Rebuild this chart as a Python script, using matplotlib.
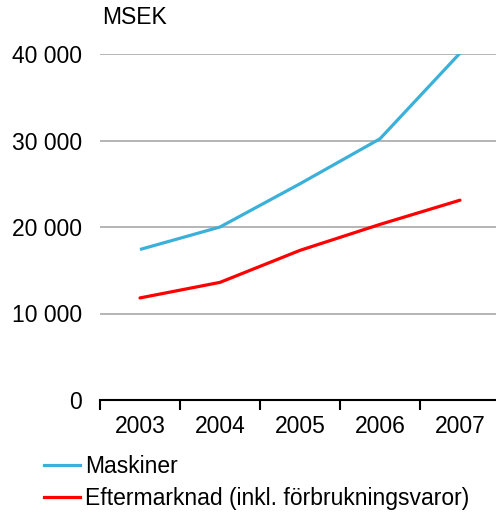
import numpy as np
import matplotlib.pyplot as plt
from matplotlib.lines import Line2D

plt.rcParams['font.family'] = ['Liberation Sans', 'DejaVu Sans']

years = ["2003", "2004", "2005", "2006", "2007"]
maskiner = [17400, 20000, 25000, 30200, 40100]
eftermarknad = [11800, 13600, 17300, 20300, 23100]
y_ticks = [0, 10000, 20000, 30000, 40000]
y_labels = ["0", "10 000", "20 000", "30 000", "40 000"]

blue = "#3bb0d9"
red = "#ff0000"
fs = 16.5

fig = plt.figure(figsize=(4.96, 5.17), dpi=100)
ax = fig.add_axes([100 / 496, 117 / 517, 400 / 496, 346 / 517])

x = np.arange(len(years))
ax.plot(x, maskiner, color=blue, lw=2.3, solid_capstyle="butt")
ax.plot(x, eftermarknad, color=red, lw=2.3, solid_capstyle="round")

ax.set_xlim(-0.5, len(years) - 0.5)
ax.set_ylim(0, 40000)
ax.set_yticks(y_ticks)
ax.set_yticklabels(y_labels, fontsize=fs)
ax.set_xticks(x)
ax.set_xticklabels(years, fontsize=fs)
ax.set_xticks(np.arange(len(years) + 1) - 0.5, minor=True)
ax.tick_params(axis="x", which="major", length=0, pad=11)
ax.tick_params(axis="x", which="minor", length=7, width=1.5, direction="out", color="black")
ax.tick_params(axis="y", length=0, pad=13)

ax.grid(axis="y", color="#a0a0a0", lw=1.1)
ax.set_axisbelow(True)
for s in ["left", "right", "top"]:
    ax.spines[s].set_visible(False)
ax.spines["bottom"].set_linewidth(1.5)
ax.spines["bottom"].set_zorder(3)

fig.text(102 / 496, 1 - 18 / 517, "MSEK", fontsize=fs, va="center", ha="left")

handles = [Line2D([], [], color=blue, lw=2.3), Line2D([], [], color=red, lw=2.3)]
fig.legend(handles, ["Maskiner", "Eftermarknad (inkl. förbrukningsvaror)"],
           loc="upper left", bbox_to_anchor=(44 / 496, 1 - 455 / 517),
           frameon=False, fontsize=fs, handlelength=1.55, handletextpad=0.25,
           labelspacing=0.4, borderaxespad=0, borderpad=0)

fig.savefig("out.png", dpi=100)
